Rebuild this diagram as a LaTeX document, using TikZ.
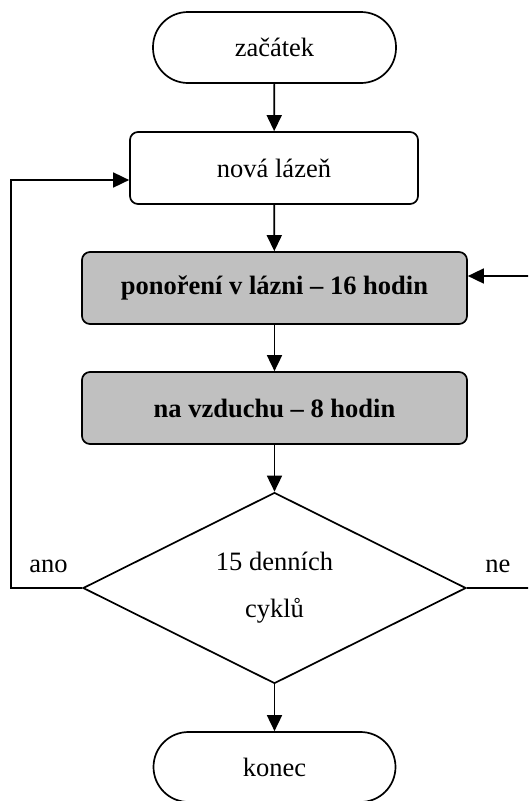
\documentclass[tikz,border=0pt]{standalone}
\usepackage{fontspec}
\setmainfont{Liberation Serif}
\usetikzlibrary{arrows.meta,shapes.geometric}
\begin{document}
\begin{tikzpicture}[x=1pt,y=-1pt,
  every node/.style={font=\fontsize{26.5}{30}\selectfont, inner sep=0pt},
  conn/.style={line width=1.7pt, -{Triangle[length=16pt,width=15pt]}},
  line/.style={line width=1.7pt},
  term/.style={draw, line width=1.7pt, rounded corners=35pt, fill=white},
  procbox/.style={draw, line width=1.7pt, rounded corners=8pt, fill=white, minimum height=72pt},
  graybox/.style={procbox, fill=boxgray, font=\fontsize{26.5}{30}\selectfont\bfseries},
  decision/.style={draw, diamond, line width=1.7pt, aspect=2, minimum width=383pt, minimum height=191pt, align=center}
]
\definecolor{boxgray}{RGB}{192,192,192}
\clip (0,0) rectangle (528,801);
\fill[white] (0,0) rectangle (528,801);

\node[term, minimum width=243pt, minimum height=71pt] (start) at (274.5,47.5) {začátek};
\node[procbox, minimum width=288pt] (nova) at (274,168) {nová lázeň};
\node[graybox, minimum width=385pt] (pon) at (274.5,288) {ponoření v lázni – 16 hodin};
\node[graybox, minimum width=385pt] (vzd) at (274.5,408) {na vzduchu – 8 hodin};
\node[decision] (dia) at (274.5,588) {15 denních\\[17pt]cyklů};
\node[term, minimum width=242pt, minimum height=70pt] (konec) at (274.5,767) {konec};

\node (ano) at (48.5,566) {ano};
\node (ne) at (498,566) {ne};

\coordinate (loopL) at (11,180);
\coordinate (loopR) at (545,276);

\draw[conn] (start) -- (nova);
\draw[conn] (nova) -- (pon);
\draw[conn] (pon) -- (vzd);
\draw[conn] (vzd) -- (dia);
\draw[conn] (dia) -- (konec);
\draw[conn] (dia.west) -| (loopL) -- (nova.west |- loopL);
\draw[conn] (dia.east) -| (loopR) -- (pon.east |- loopR);
\end{tikzpicture}
\end{document}
